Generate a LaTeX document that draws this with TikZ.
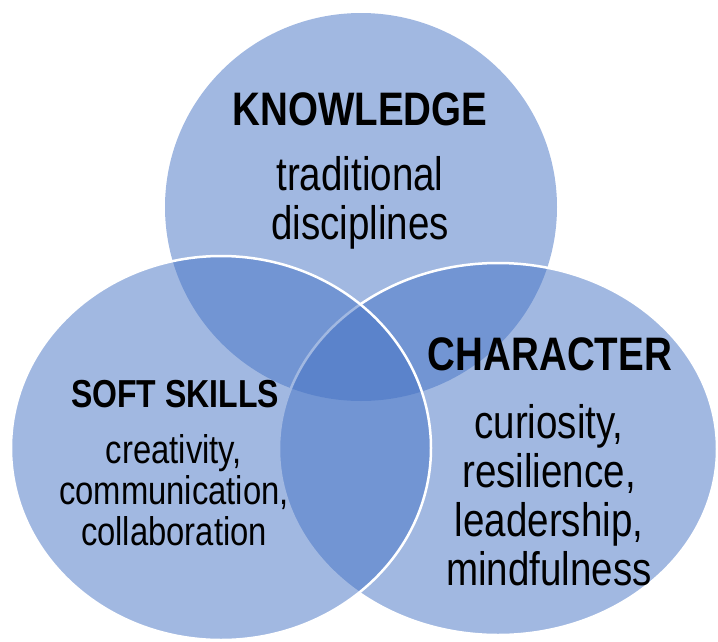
\documentclass[tikz,border=0pt]{standalone}
\usepackage{fontspec}
\setmainfont{Liberation Sans}[FakeStretch=0.82]
\usetikzlibrary{shapes.geometric}
\definecolor{vennblue}{RGB}{68,114,196}

\begin{document}
\begin{tikzpicture}[x=1pt, y=-1pt,
    venn/.style={ellipse, fill=vennblue, fill opacity=0.5, inner sep=0pt},
    rim/.style={draw=white, line width=2.5pt},
    head/.style={font=\bfseries\fontsize{47}{49}\selectfont, anchor=base},
    body/.style={align=center, anchor=base, font=\fontsize{47}{49}\selectfont}
  ]
  \useasboundingbox (0,0) rectangle (718,641);
  % the three sets, left one drawn last
  \node[venn, minimum width=392pt, minimum height=388pt] (know) at (361,207) {};
  \node[venn, rim, minimum width=438pt, minimum height=372pt] (char) at (498,449) {};
  \node[venn, rim, minimum width=420pt, minimum height=384pt] (soft) at (221,448) {};

  % labels (body nodes sit on their last line)
  \node[head] (knowhead) at (360,125) {KNOWLEDGE};
  \node[body] (knowtext) at (360,239) {traditional\\disciplines};
  \node[head, font=\bfseries\fontsize{39}{41}\selectfont] (softhead) at (175,407) {SOFT SKILLS};
  \node[body, font=\fontsize{40}{41}\selectfont] (softtext) at (174,545) {creativity,\\communication,\\collaboration};
  \node[head] (charhead) at (550,370) {CHARACTER};
  \node[body] (chartext) at (549,585) {curiosity,\\resilience,\\leadership,\\mindfulness};
\end{tikzpicture}
\end{document}
